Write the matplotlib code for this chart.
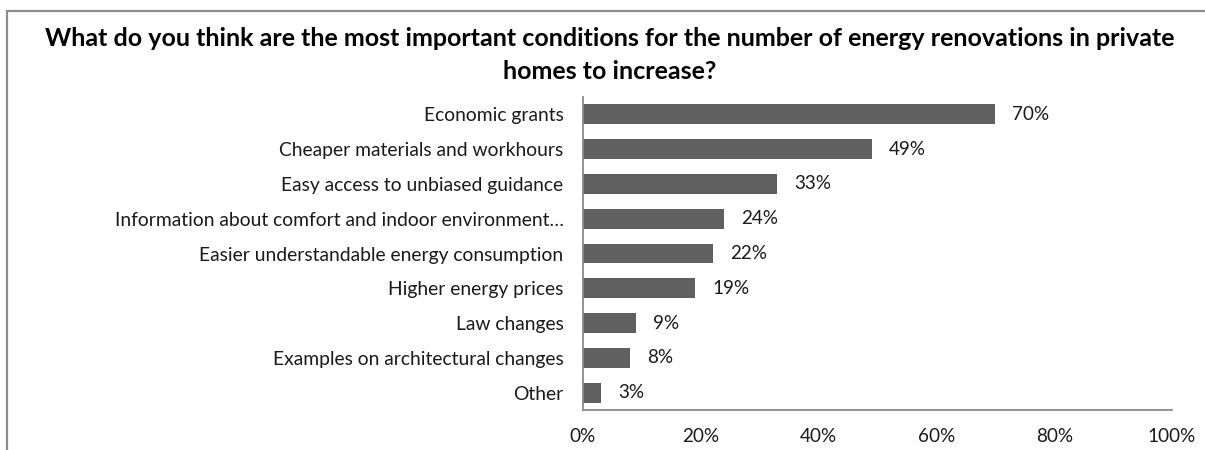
import matplotlib.pyplot as plt
from matplotlib.patches import Rectangle

# survey answers, top to bottom as shown
conditions = [
    'Economic grants',
    'Cheaper materials and workhours',
    'Easy access to unbiased guidance',
    'Information about comfort and indoor environment\u2026',
    'Easier understandable energy consumption',
    'Higher energy prices',
    'Law changes',
    'Examples on architectural changes',
    'Other',
]
shares = [70, 49, 33, 24, 22, 19, 9, 8, 3]
xticks = [0, 20, 40, 60, 80, 100]

plt.rcParams['font.family'] = ['Lato', 'DejaVu Sans']

fig = plt.figure(figsize=(12.05, 4.5), dpi=100)
ax = fig.add_axes([583 / 1205, 40 / 450, 589 / 1205, 313 / 450])

pos = range(len(conditions))
ax.barh(pos, shares, height=0.57, color='#606060')
for p, v in zip(pos, shares):
    ax.text(v + 2.9, p, f'{v}%', va='center', ha='left', fontsize=13.6, color='#1a1a1a')

ax.set_ylim(len(conditions) - 0.5, -0.5)
ax.set_xlim(0, 100)
ax.set_yticks(list(pos))
ax.set_yticklabels(conditions, fontsize=13.9, color='#1a1a1a')
ax.set_xticks(xticks)
ax.set_xticklabels([f'{t}%' for t in xticks], fontsize=13.6, color='#1a1a1a')
ax.tick_params(axis='y', length=0, pad=14)
ax.tick_params(axis='x', length=0, pad=13)

for side in ['top', 'right']:
    ax.spines[side].set_visible(False)
for side in ['left', 'bottom']:
    ax.spines[side].set_color('#8a8a8a')
    ax.spines[side].set_linewidth(1.3)

fig.text(610 / 1205, 1 - 55 / 450,
         'What do you think are the most important conditions for the number of energy renovations in private\nhomes to increase?',
         ha='center', va='center', fontsize=18, fontweight='bold', linespacing=1.55, color='#000000')

# chart frame, only the top and left edges fall inside the image
fig.patches.append(Rectangle((7.5 / 1205, -0.5), 2, 1.5 - 10.5 / 450, transform=fig.transFigure,
                             fill=False, edgecolor='#8c8c8c', linewidth=1.6))

fig.savefig('out.png', dpi=100)
